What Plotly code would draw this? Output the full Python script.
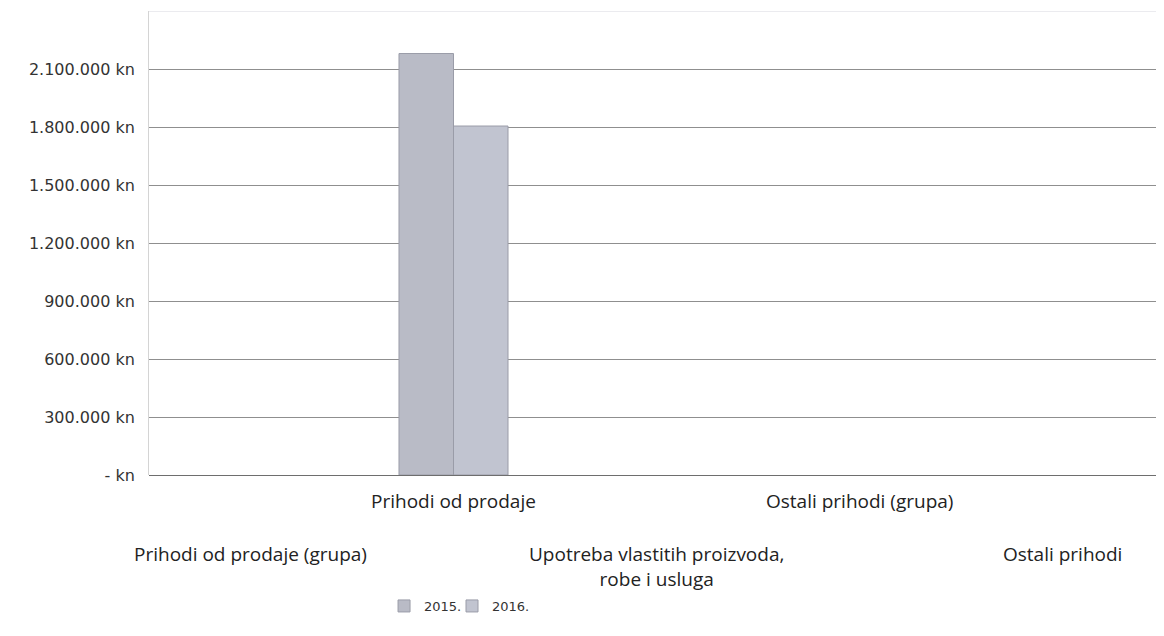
import plotly.graph_objects as go

categories = [
    "Prihodi od prodaje (grupa)",
    "Prihodi od prodaje",
    "Upotreba vlastitih proizvoda,<br>robe i usluga",
    "Ostali prihodi (grupa)",
    "Ostali prihodi",
]
cat_keys = ["c0", "c1", "c2", "c3", "c4"]
series_names = ["2015.", "2016."]
values_2015 = [None, 2180000, None, None, None]
values_2016 = [None, 1805000, None, None, None]
tick_vals = [0, 300000, 600000, 900000, 1200000, 1500000, 1800000, 2100000]
tick_text = ["- kn", "300.000 kn", "600.000 kn", "900.000 kn", "1.200.000 kn",
             "1.500.000 kn", "1.800.000 kn", "2.100.000 kn"]
label_rows = [1, 0, 1, 0, 1]

# page has an 8px body margin, so the figure is sized to fit the 1164x636 window
W, H = 1148, 620
ML, MT, MB = 141, 3, 153
PH = H - MT - MB
PW = W - ML
CAT_PX = 203.0  # category width in the reference (plot runs past the window edge)

fig = go.Figure()
fig.add_trace(go.Bar(x=cat_keys, y=values_2015, name=series_names[0], legend="legend",
                     marker=dict(color="#b9bbc6", line=dict(color="#9a9ca8", width=1))))
fig.add_trace(go.Bar(x=cat_keys, y=values_2016, name=series_names[1], legend="legend2",
                     marker=dict(color="#c1c4d0", line=dict(color="#9a9ca8", width=1))))

lab_font = dict(family="Open Sans", size=19, color="#222")
for key, label, row in zip(cat_keys, categories, label_rows):
    top_px = 479 if row == 0 else 532
    fig.add_annotation(x=key, xref="x", yref="paper", y=-(top_px - (H - MB)) / PH,
                       text=label, showarrow=False, yanchor="top",
                       borderpad=0, font=lab_font)

leg_common = dict(orientation="h", xanchor="left", yanchor="middle",
                  y=-(598 - (H - MB)) / PH, bgcolor="rgba(0,0,0,0)",
                  font=dict(family="DejaVu Sans", size=13, color="#333"))

fig.update_layout(
    width=W, height=H,
    margin=dict(l=ML, r=0, t=MT, b=MB, autoexpand=False),
    paper_bgcolor="white", plot_bgcolor="white",
    barmode="group", bargap=0.463, bargroupgap=0,
    showlegend=True,
    legend=dict(x=0.2334, **leg_common),
    legend2=dict(x=0.3009, **leg_common),
    xaxis=dict(type="category", categoryorder="array", categoryarray=cat_keys,
               range=[-0.5, -0.5 + PW / CAT_PX], showticklabels=False, showgrid=False,
               showline=False, zeroline=False),
    yaxis=dict(range=[0, 2400000], tickvals=tick_vals, ticktext=tick_text,
               showgrid=True, gridcolor="#8f8f8f", gridwidth=1,
               zeroline=True, zerolinecolor="#6e6e6e", zerolinewidth=1,
               showline=True, linecolor="#d4d4d4", mirror=False,
               ticks="outside", ticklen=10, tickcolor="rgba(0,0,0,0)",
               automargin=False,
               tickfont=dict(family="DejaVu Sans", size=16, color="#333")),
    font=dict(family="DejaVu Sans"),
)
fig.add_shape(type="line", xref="paper", yref="y", x0=0, x1=1, y0=2400000, y1=2400000,
              line=dict(color="#d8d8e0", width=1))

fig.write_html("out.html")
